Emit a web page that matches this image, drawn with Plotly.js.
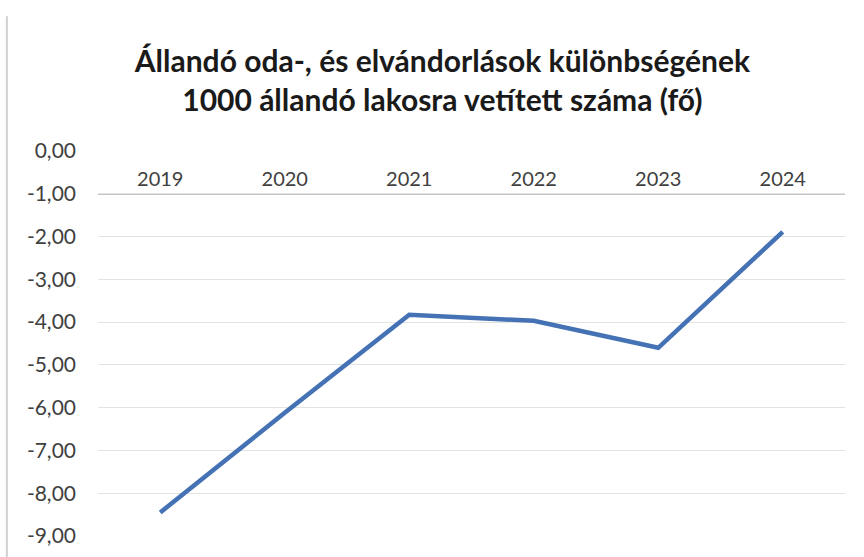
<!DOCTYPE html>
<html>
<head>
<meta charset="utf-8">
<script src="https://cdn.plot.ly/plotly-3.0.1.min.js"></script>
<style>
  html, body { margin: 0; padding: 0; background: #fff; }
  #chart { width: 864px; height: 557px; }
</style>
</head>
<body>
<div id="chart"></div>
<script>
// years and values (per 1000 residents)
var years = ['2019', '2020', '2021', '2022', '2023', '2024'];
var values = [-8.45, -6.12, -3.83, -3.97, -4.6, -1.89];
var yTicks = [0, -1, -2, -3, -4, -5, -6, -7, -8, -9];
var yTickText = ['0,00', '-1,00', '-2,00', '-3,00', '-4,00', '-5,00', '-6,00', '-7,00', '-8,00', '-9,00'];

var trace = {
  x: years,
  y: values,
  type: 'scatter',
  mode: 'lines',
  line: { color: '#4472b4', width: 4.5 },
  hoverinfo: 'x+y'
};

var layout = {
  width: 864,
  height: 557,
  paper_bgcolor: '#fff',
  plot_bgcolor: '#fff',
  margin: { l: 98, r: 19, t: 151, b: 21 },
  showlegend: false,
  title: {
    text: '<b>Állandó oda-, és elvándorlások különbségének<br>1000 állandó lakosra vetített száma (fő)</b>',
    font: { family: 'Lato, sans-serif', size: 30, color: '#1a1a1a' },
    x: 0.512,
    xanchor: 'center',
    y: 0.87,
    yanchor: 'top'
  },
  xaxis: {
    type: 'category',
    range: [-0.5, 5.5],
    side: 'top',
    anchor: 'free',
    position: 8 / 9,
    showgrid: false,
    zeroline: false,
    showline: true,
    linecolor: '#c4c4c4',
    linewidth: 1,
    ticks: '',
    tickfont: { family: 'Lato, sans-serif', size: 20, color: '#404040' }
  },
  yaxis: {
    range: [-9, 0],
    tickvals: yTicks,
    ticktext: yTickText,
    showgrid: true,
    gridcolor: '#e3e3e3',
    gridwidth: 1,
    zeroline: false,
    showline: false,
    ticks: '',
    ticklabelstandoff: 21,
    tickfont: { family: 'Lato, sans-serif', size: 21, color: '#404040' }
  },
  shapes: [
    { type: 'line', xref: 'paper', yref: 'paper', x0: -0.122, x1: -0.122, y0: -0.06, y1: 1.35,
      line: { color: '#d0d0d0', width: 2 } }
  ]
};

Plotly.newPlot('chart', [trace], layout, { displayModeBar: false, staticPlot: true });
</script>
</body>
</html>
